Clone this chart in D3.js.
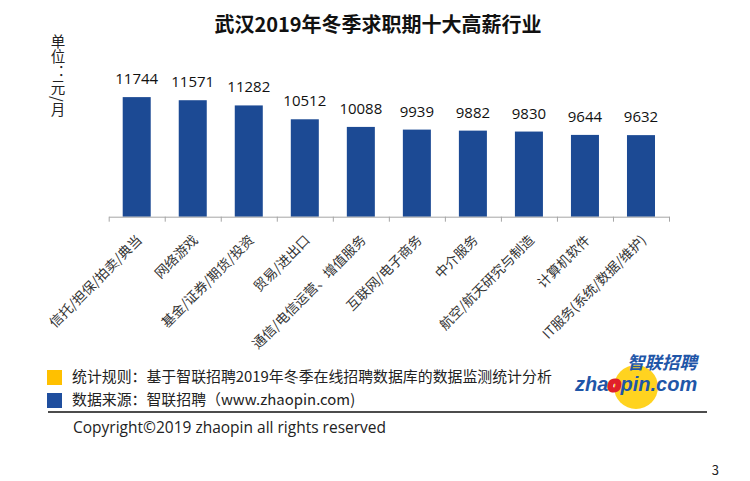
<!DOCTYPE html>
<html>
<head>
    <meta charset="utf-8">
    <script src="https://cdn.jsdelivr.net/npm/d3@7"></script>
    <style>
        body { margin: 0px; background: white; }
        text { font-family: "Noto Sans CJK SC", "Open Sans", sans-serif; }
    </style>
</head>
<body>
<svg id="chart" width="750" height="481"></svg>
<script>
// values (yuan / month)
var categories = ["信托/担保/拍卖/典当", "网络游戏", "基金/证券/期货/投资", "贸易/进出口",
    "通信/电信运营、增值服务", "互联网/电子商务", "中介服务", "航空/航天研究与制造",
    "计算机软件", "IT服务(系统/数据/维护)"];
var salaries = [11744, 11571, 11282, 10512, 10088, 9939, 9882, 9830, 9644, 9632];
var unitLabel = "单位：元/月";
var notes = ["统计规则：基于智联招聘2019年冬季在线招聘数据库的数据监测统计分析",
    "数据来源：智联招聘（www.zhaopin.com)"];
var noteColors = ["#FFC000", "#1F4E9E"];

var svg = d3.select("#chart");
var x = d3.scaleBand().domain(categories).range([108.7, 669]).paddingInner(0.5).paddingOuter(0.25);
var y = d3.scaleLinear().domain([5100, 14000]).range([216.7, 56.5]);
// tick marks sit between the bars
var edges = d3.scaleLinear().domain([0, categories.length]).range([108.7, 669]);

// title
svg.append("text")
    .attr("x", 378).attr("y", 32)
    .attr("text-anchor", "middle")
    .style("font-size", "20px").style("font-weight", "bold").style("fill", "#111")
    .text("武汉2019年冬季求职期十大高薪行业");

// unit label, written top to bottom
svg.append("text")
    .attr("x", 58).attr("y", 34)
    .style("writing-mode", "vertical-rl")
    .style("font-size", "14.5px").style("letter-spacing", "1px")
    .style("fill", "#222")
    .text(unitLabel);

// bars
svg.selectAll("rect.bar")
    .data(salaries)
    .enter()
    .append("rect")
    .attr("class", "bar")
    .attr("x", (d, i) => x(categories[i]))
    .attr("y", d => y(d))
    .attr("width", x.bandwidth())
    .attr("height", d => y.range()[0] - y(d))
    .style("fill", "#1C4A94");

// value labels
svg.selectAll("text.val")
    .data(salaries)
    .enter()
    .append("text")
    .attr("class", "val")
    .attr("x", (d, i) => x(categories[i]) + x.bandwidth() / 2)
    .attr("y", d => y(d) - 13)
    .attr("text-anchor", "middle")
    .style("font-size", "15px").style("fill", "#111")
    .style("font-family", "'Open Sans', sans-serif")
    .text(d => d);

// x axis
var axis = svg.append("g")
    .attr("transform", "translate(0," + y.range()[0] + ")")
    .call(d3.axisBottom(edges).tickValues(d3.range(categories.length + 1)).tickSize(5).tickSizeOuter(0).tickFormat(""));
axis.selectAll("path, line").style("stroke", "#A6A6A6");

// category labels at 45 degrees
svg.selectAll("text.cat")
    .data(categories)
    .enter()
    .append("text")
    .attr("class", "cat")
    .attr("text-anchor", "end")
    .attr("transform", d => "translate(" + (x(d) + x.bandwidth() / 2 + 6) + ",241) rotate(-45)")
    .style("font-size", "13.5px").style("fill", "#333")
    .text(d => d);

// footnotes
svg.selectAll("rect.key")
    .data(notes)
    .enter()
    .append("rect")
    .attr("class", "key")
    .attr("x", 47).attr("y", (d, i) => 370 + i * 23)
    .attr("width", 15).attr("height", 15)
    .style("fill", (d, i) => noteColors[i]);
svg.selectAll("text.note")
    .data(notes)
    .enter()
    .append("text")
    .attr("class", "note")
    .attr("x", 72).attr("y", (d, i) => 382 + i * 23)
    .style("font-size", "14.9px").style("fill", "#222")
    .text(d => d);

svg.append("line")
    .attr("x1", 48).attr("x2", 707).attr("y1", 412).attr("y2", 412)
    .style("stroke", "#111").style("stroke-width", "1.5px");

svg.append("text")
    .attr("x", 73).attr("y", 433)
    .style("font-size", "15.5px").style("fill", "#222")
    .style("font-family", "'Open Sans', sans-serif")
    .text("Copyright©2019 zhaopin all rights reserved");

svg.append("text")
    .attr("x", 719).attr("y", 475)
    .attr("text-anchor", "end")
    .style("font-size", "13px").style("fill", "#222")
    .text("3");

// logo
var logo = svg.append("g");
logo.append("circle").attr("cx", 636).attr("cy", 387).attr("r", 22).style("fill", "#FFD320");
logo.append("text")
    .attr("x", 627).attr("y", 369)
    .style("font-size", "17.5px").style("font-weight", "bold").style("font-style", "italic")
    .style("fill", "#1F56A8")
    .text("智联招聘");
var brand = logo.append("text")
    .attr("x", 575).attr("y", 391)
    .style("font-size", "20px").style("font-weight", "bold").style("font-style", "italic")
    .style("font-family", "'Liberation Sans', sans-serif")
    .style("fill", "#1F56A8");
brand.append("tspan").text("zha");
brand.append("tspan").style("fill", "#E0202A").style("stroke", "#E0202A").style("stroke-width", "3px").text("o");
brand.append("tspan").text("pin.com");
</script>
</body>
</html>
